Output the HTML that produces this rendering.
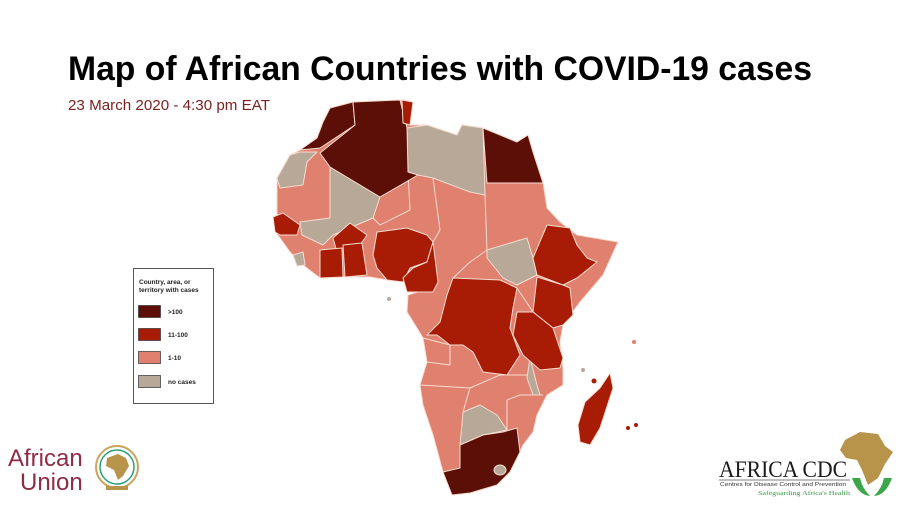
<!DOCTYPE html>
<html><head><meta charset="utf-8"><style>
html,body{margin:0;padding:0;background:#fff;}
svg{display:block;}
</style></head><body>
<svg width="900" height="506" viewBox="0 0 900 506" xmlns="http://www.w3.org/2000/svg">
<rect width="900" height="506" fill="#fff"/>
<text x="68" y="80" font-family="Liberation Sans, sans-serif" font-weight="bold" font-size="34" fill="#000" textLength="744" lengthAdjust="spacingAndGlyphs">Map of African Countries with COVID-19 cases</text>
<text x="68" y="110" font-family="Liberation Sans, sans-serif" font-size="15" fill="#7a1f1f" textLength="202" lengthAdjust="spacingAndGlyphs">23 March 2020 - 4:30 pm EAT</text>

<g stroke="#f6dcd2" stroke-width="1" stroke-linejoin="round">
<!-- base salmon continent -->
<polygon fill="#e0806e" points="330,108 353,102 400,100 413,102 410,125 427,125 457,135 462,125 483,128 487,132 517,142 528,135 533,152 543,182 547,208 560,222 577,235 618,242 603,275 580,302 563,325 560,342 563,368 563,385 547,395 537,415 533,432 523,445 510,472 497,485 470,493 452,495 443,472 433,435 423,405 420,385 427,362 423,338 417,328 407,312 408,295 430,288 427,282 403,278 387,280 370,277 343,277 320,278 303,265 290,252 280,238 275,232 277,215 277,178 290,155 300,150 317,138 323,122"/>
<!-- internal salmon borders hint -->
<polyline fill="none" points="433,178 440,230 433,242"/>
<polyline fill="none" points="485,195 487,250 470,262 453,278"/>
<polyline fill="none" points="408,172 410,210 380,225 373,218"/>
<polyline fill="none" points="420,385 470,388 500,375 535,375"/>
<polyline fill="none" points="423,338 450,345 450,365 427,362"/>
<polyline fill="none" points="470,388 463,412"/>
<polyline fill="none" points="517,288 533,312"/>
<polyline fill="none" points="543,395 520,395 507,400 507,430"/>
<!-- gray -->
<polygon fill="#b8a898" points="407,128 427,125 457,135 462,125 483,128 485,195 470,192 433,178 418,175 408,172"/>
<polygon fill="#b8a898" points="300,152 317,152 307,162 303,185 280,188 277,178 290,155"/>
<polygon fill="#b8a898" points="330,167 380,197 373,218 333,235 323,245 302,235 300,222 330,218"/>
<polygon fill="#b8a898" points="293,255 303,252 305,265 297,266"/>
<polygon fill="#b8a898" points="487,250 527,238 533,258 537,275 517,285 503,278 487,258"/>
<polygon fill="#b8a898" points="463,412 480,405 497,415 507,430 483,435 460,445"/>
<polygon fill="#b8a898" points="530,358 537,385 540,395 533,395 527,378"/>
<!-- dark -->
<polygon fill="#5c0f06" points="330,108 353,102 355,125 320,148 300,150 317,138 323,122"/>
<polygon fill="#5c0f06" points="353,102 400,100 407,128 408,172 418,175 380,197 330,167 320,153 355,125"/>
<polygon fill="#5c0f06" points="483,128 517,142 528,135 533,152 543,183 487,183"/>
<polygon fill="#5c0f06" points="460,445 483,435 503,432 517,428 520,452 510,472 497,485 470,493 452,495 443,472 460,468"/>
<ellipse cx="500" cy="470" rx="6" ry="5" fill="#b8a898"/>
<!-- red -->
<polygon fill="#a81c05" points="402,100 413,102 410,125 403,123"/>
<polygon fill="#a81c05" points="273,217 283,213 300,225 297,235 280,235 275,232"/>
<polygon fill="#a81c05" points="333,238 350,223 367,235 360,245 337,252"/>
<polygon fill="#a81c05" points="320,250 342,248 343,277 320,278"/>
<polygon fill="#a81c05" points="343,245 362,243 367,275 345,277"/>
<polygon fill="#a81c05" points="377,232 407,228 427,235 433,242 427,262 410,268 403,282 387,280 377,268 373,255"/>
<polygon fill="#a81c05" points="433,242 438,282 433,292 407,292 403,278 413,268 427,262"/>
<polygon fill="#a81c05" points="533,258 547,225 570,228 577,245 587,258 597,262 577,278 563,285 537,275"/>
<polygon fill="#a81c05" points="537,277 563,285 570,288 573,315 563,325 553,328 533,312"/>
<polygon fill="#a81c05" points="453,278 500,280 517,288 513,308 510,328 520,355 507,375 483,372 473,352 463,345 450,345 437,335 427,335 440,322 447,295"/>
<polygon fill="#a81c05" points="517,312 533,312 553,328 563,358 560,368 540,370 523,355 513,335"/>
<polygon fill="#a81c05" points="610,373 613,388 600,428 590,445 580,442 578,425 585,402 600,388"/>
</g>
<circle cx="389" cy="299" r="2" fill="#b8a898"/>
<circle cx="634" cy="342" r="2" fill="#e0806e"/>
<circle cx="583" cy="370" r="2" fill="#b8a898"/>
<circle cx="594" cy="381" r="2.5" fill="#a81c05"/>
<circle cx="628" cy="428" r="2" fill="#a81c05"/>
<circle cx="636" cy="425" r="2" fill="#a81c05"/>

<!-- legend -->
<rect x="133.5" y="268.5" width="80" height="135" fill="#fff" stroke="#555" stroke-width="1"/>
<g font-family="Liberation Sans, sans-serif" font-size="6.5" font-weight="bold" fill="#222">
<text x="139" y="284">Country, area, or</text>
<text x="139" y="292">territory with cases</text>
<rect x="138.5" y="305.5" width="22" height="12" fill="#5c0f06" stroke="#333" stroke-width="0.7"/>
<text x="168" y="314">&gt;100</text>
<rect x="138.5" y="328.5" width="22" height="12" fill="#a81c05" stroke="#333" stroke-width="0.7"/>
<text x="168" y="337">11-100</text>
<rect x="138.5" y="351.5" width="22" height="12" fill="#e0806e" stroke="#333" stroke-width="0.7"/>
<text x="168" y="360">1-10</text>
<rect x="138.5" y="375.5" width="22" height="12" fill="#b8a898" stroke="#333" stroke-width="0.7"/>
<text x="168" y="384">no cases</text>
</g>

<!-- African Union logo -->
<g font-family="Liberation Sans, sans-serif" fill="#8e2b45">
<text x="8" y="466" font-size="24">African</text>
<text x="20" y="490" font-size="24">Union</text>
</g>
<circle cx="117" cy="467" r="21" fill="none" stroke="#c9a45a" stroke-width="2"/>
<circle cx="117" cy="467" r="17" fill="none" stroke="#2e9e7a" stroke-width="1.5"/>
<path d="M107,458 L118,454 L126,458 L129,466 L123,476 L118,480 L114,470 L106,466 Z" fill="#b8934a"/>
<rect x="106" y="486" width="22" height="4" fill="#b8934a"/>

<!-- Africa CDC logo -->
<path d="M845,440 L860,432 L878,434 L885,446 L893,452 L885,464 L878,478 L868,485 L862,470 L857,460 L846,458 L840,450 Z" fill="#b8934a"/>
<path d="M852,478 Q858,495 870,496 Q862,488 860,478 Z M892,478 Q886,495 874,496 Q882,488 884,478 Z" fill="#3aa64a"/>
<text x="719" y="477" font-family="Liberation Serif, serif" font-size="23" fill="#1a1a1a" textLength="128" lengthAdjust="spacingAndGlyphs">AFRICA CDC</text>
<line x1="719" y1="480" x2="850" y2="480" stroke="#555" stroke-width="0.8"/>
<text x="720" y="486" font-family="Liberation Sans, sans-serif" font-size="5.5" fill="#333" textLength="126" lengthAdjust="spacingAndGlyphs">Centres for Disease Control and Prevention</text>
<text x="758" y="495" font-family="Liberation Serif, serif" font-size="6.5" fill="#3a9a4a" textLength="92" lengthAdjust="spacingAndGlyphs">Safeguarding Africa's Health</text>
</svg>
</body></html>
